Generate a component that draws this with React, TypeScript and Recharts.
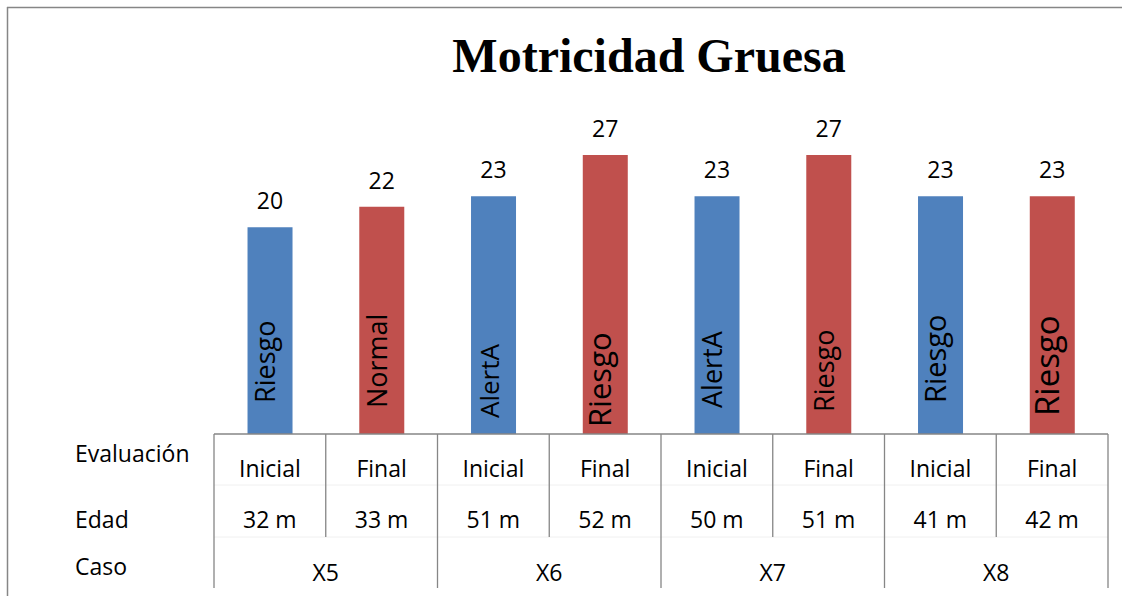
import React from "react";
import { BarChart, Bar, XAxis, YAxis, Cell, LabelList, Customized } from "recharts";

const evaluaciones = ["Inicial", "Final", "Inicial", "Final", "Inicial", "Final", "Inicial", "Final"];
const edades = ["32 m", "33 m", "51 m", "52 m", "50 m", "51 m", "41 m", "42 m"];
const casos = ["X5", "X6", "X7", "X8"];
const valores = [20, 22, 23, 27, 23, 27, 23, 23];
const estados = ["Riesgo", "Normal", "AlertA", "Riesgo", "AlertA", "Riesgo", "Riesgo", "Riesgo"];
const filaEtiquetas = ["Evaluación", "Edad", "Caso"];
const titulo = "Motricidad Gruesa";

// styling for the inner (rotated) labels: font size and distance of the text start from the bar base
const estadoEstilo = [
  { size: 27, bottom: 31 },
  { size: 27, bottom: 26 },
  { size: 26, bottom: 16 },
  { size: 31, bottom: 7 },
  { size: 27, bottom: 26 },
  { size: 27, bottom: 22 },
  { size: 29, bottom: 31 },
  { size: 33, bottom: 18 },
];

const data = valores.map((v, i) => ({
  cat: `${casos[Math.floor(i / 2)]}-${evaluaciones[i]}`,
  evaluacion: evaluaciones[i],
  edad: edades[i],
  caso: casos[Math.floor(i / 2)],
  valor: v,
  estado: estados[i],
}));

const W = 1122;
const H = 596;
const AXIS_H = 162;
const M = { top: 124, right: 14, bottom: 0, left: 214 };
const PLOT_W = W - M.left - M.right;
const BAND = PLOT_W / data.length;
const BLUE = "#4F81BD";
const RED = "#C0504D";
const GRID = "#868686";
const FONT = "'Open Sans', 'DejaVu Sans', sans-serif";

function TableTick(props: any) {
  const { x, y, payload } = props;
  const i: number = payload.index;
  const left = x - BAND / 2;
  const right = x + BAND / 2;
  const d = data[i];
  const isGroupStart = i % 2 === 0;
  const isLast = i === data.length - 1;
  return (
    <g>
      {i === 0 &&
        filaEtiquetas.map((t, k) => (
          <text key={t} x={75} y={y + [28, 94, 141][k]} fontSize={23} fontFamily={FONT} fill="#000">
            {t}
          </text>
        ))}
      {i === 0 && (
        <g>
          <line x1={left} x2={left + PLOT_W} y1={y + 51} y2={y + 51} stroke="#f0f0f0" />
          <line x1={left} x2={left + PLOT_W} y1={y + 103} y2={y + 103} stroke="#f0f0f0" />
        </g>
      )}
      <line x1={left} x2={left} y1={y} y2={y + (isGroupStart ? 154 : 103)} stroke={GRID} strokeWidth={1.3} />
      {isLast && <line x1={right} x2={right} y1={y} y2={y + 154} stroke={GRID} strokeWidth={1.3} />}
      <text x={x} y={y + 43} textAnchor="middle" fontSize={23} fontFamily={FONT} fill="#000">
        {d.evaluacion}
      </text>
      <text x={x} y={y + 94} textAnchor="middle" fontSize={23} fontFamily={FONT} fill="#000">
        {d.edad}
      </text>
      {!isGroupStart && (
        <text x={left} y={y + 147} textAnchor="middle" fontSize={23} fontFamily={FONT} fill="#000">
          {d.caso}
        </text>
      )}
    </g>
  );
}

function EstadoLabel(props: any) {
  const { x, y, width, height, value, index } = props;
  const st = estadoEstilo[index] || { size: 27, bottom: 25 };
  const cx = x + width / 2;
  const by = y + height - st.bottom;
  return (
    <text
      x={cx}
      y={by}
      dy="0.2em"
      transform={`rotate(-90 ${cx} ${by})`}
      textAnchor="start"
      fontSize={st.size}
      fontFamily={FONT}
      fill="#000"
    >
      {value}
    </text>
  );
}

function Decor() {
  return (
    <g>
      <line x1={7} x2={W} y1={7.5} y2={7.5} stroke={GRID} strokeWidth={1.5} />
      <line x1={7.5} x2={7.5} y1={7} y2={H} stroke={GRID} strokeWidth={1.5} />
      <text
        x={649}
        y={72}
        textAnchor="middle"
        fontSize={48}
        fontWeight="bold"
        fontFamily="'Liberation Serif', 'Times New Roman', serif"
        fill="#000"
      >
        {titulo}
      </text>
    </g>
  );
}

export default function App() {
  return (
    <div style={{ width: W, height: H, background: "#fff" }}>
      <style>{`body{margin:0;overflow:hidden}`}</style>
      <BarChart width={W} height={H} data={data} margin={M} barCategoryGap="30%">
        <Customized component={Decor} />
        <XAxis
          dataKey="cat"
          interval={0}
          tickLine={false}
          tickSize={0}
          tickMargin={0}
          axisLine={{ stroke: GRID, strokeWidth: 1.3 }}
          tick={<TableTick />}
          height={AXIS_H}
        />
        <YAxis hide domain={[0, 30]} />
        <Bar dataKey="valor" isAnimationActive={false}>
          {data.map((d, i) => (
            <Cell key={d.cat} fill={i % 2 === 0 ? BLUE : RED} />
          ))}
          <LabelList dataKey="valor" position="top" offset={18} fontSize={23} fontFamily={FONT} fill="#000" />
          <LabelList dataKey="estado" content={<EstadoLabel />} />
        </Bar>
      </BarChart>
    </div>
  );
}
